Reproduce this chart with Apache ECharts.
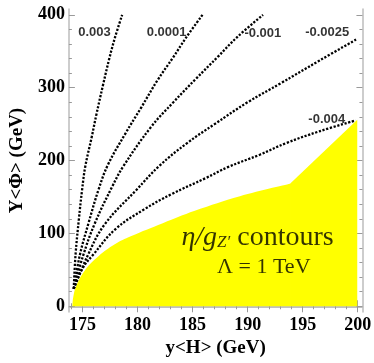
<!DOCTYPE html>
<html>
<head>
<meta charset="utf-8">
<script src="https://cdn.jsdelivr.net/npm/echarts@6/dist/echarts.min.js"></script>
<style>
html, body { margin: 0; padding: 0; background: #fff; }
#chart { width: 374px; height: 363px; }
</style>
</head>
<body>
<div id="chart"></div>
<script>
// axis ticks
var xMajor = [175, 180, 185, 190, 195, 200];
var xMinor = [174, 176, 177, 178, 179, 181, 182, 183, 184, 186, 187, 188, 189, 191, 192, 193, 194, 196, 197, 198, 199];
var yMajor = [0, 100, 200, 300, 400];
var yMinor = [20, 40, 60, 80, 120, 140, 160, 180, 220, 240, 260, 280, 320, 340, 360, 380];

// yellow region boundary (curved part, then straight part)
var regionCurve = [[174.08, 0], [174.15, 12], [174.43, 28], [175.3, 51], [176.47, 69], [177.93, 85],
  [179.38, 96], [182.29, 114], [185.2, 131], [189.3, 151], [193.85, 168]];
var regionLine = [[193.85, 168], [199.96, 256]];

// dotted contours
var contour0003 = [[174.2, 24], [174.37, 72], [174.67, 120], [174.96, 160], [175.25, 192], [175.83, 232],
  [176.27, 264], [176.85, 303], [177.43, 340], [177.95, 369], [178.6, 400]];
var contour00001 = [[174.2, 24], [174.75, 70], [175.54, 114], [176.45, 160], [177.3, 194], [178.89, 237],
  [180.34, 273], [181.8, 310], [183.25, 342], [184.42, 369], [185.9, 400]];
var contourM001 = [[174.2, 24], [175.04, 69], [176.12, 114], [177.72, 165], [178.7, 192], [181.22, 246],
  [183.25, 280], [185.29, 312], [187.33, 343], [189.02, 369], [191.4, 400]];
var contourM0025 = [[174.2, 24], [175.45, 69], [176.99, 112], [179.91, 160], [182, 193], [184.5, 224],
  [187, 250], [190, 280], [193, 306], [196.5, 337], [199.85, 366]];
var contourM004 = [[174.2, 24], [175, 52], [175.98, 71], [178, 106], [180.6, 133], [183.1, 154],
  [186.2, 176], [188.2, 191], [191.1, 208], [193.5, 224], [196.5, 240], [199.8, 255]];

var contourNames = ['0.003', '0.0001', '-0.001', '-0.0025', '-0.004'];
var contourLabelX = [176.09, 182.64, 191.38, 197.23, 197.19];
var contourLabelY = [375.6, 375.6, 374, 375.6, 256.4];

var xMin = 173.76, xMax = 200.43, yMin = -8, yMax = 408;
var frameColor = '#bdbdbd', tickColor = '#9a9a9a';
var labelFont = { fontFamily: 'Liberation Serif', fontWeight: 'bold', fontSize: 18, color: '#000' };

function frameAxis(pos, min, max, ticks, len, main) {
  return {
    type: 'value', position: pos, min: min, max: max,
    axisLine: { show: main, lineStyle: { color: frameColor, width: 1.5 } },
    axisTick: { show: true, inside: true, length: len, customValues: ticks, lineStyle: { color: tickColor, width: 1 } },
    axisLabel: { show: false },
    splitLine: { show: false }
  };
}

var xBottom = frameAxis('bottom', xMin, xMax, xMajor, 6, true);
xBottom.axisLabel = Object.assign({ show: true, customValues: xMajor, margin: 4 }, labelFont);
xBottom.name = 'y<H> (GeV)';
xBottom.nameLocation = 'middle';
xBottom.nameGap = 25;
xBottom.nameTextStyle = Object.assign({}, labelFont, { fontSize: 19 });

var yLeft = frameAxis('left', yMin, yMax, yMajor, 6, true);
yLeft.axisLabel = Object.assign({ show: true, customValues: yMajor, margin: 4 }, labelFont);
yLeft.name = 'Y<Φ> (GeV)';
yLeft.nameLocation = 'middle';
yLeft.nameGap = 40;
yLeft.nameTextStyle = Object.assign({}, labelFont, { fontSize: 19 });

function contourSeries(data) {
  return {
    type: 'line', data: data, smooth: 0.4, showSymbol: false, symbol: 'none', z: 5,
    lineStyle: { color: '#000', width: 2.3, type: [2.2, 1.6] }
  };
}

function areaSeries(data, smooth) {
  return {
    type: 'line', data: data, smooth: smooth, showSymbol: false, symbol: 'none', z: 2,
    lineStyle: { width: 0 },
    areaStyle: { color: '#ffff00', opacity: 1, origin: 0 }
  };
}

var labelData = contourNames.map(function (n, i) {
  return { name: n, value: [contourLabelX[i], contourLabelY[i]] };
});

var noBorder = { textBorderWidth: 0, textShadowBlur: 0 };

var chart = echarts.init(document.getElementById('chart'));
chart.setOption({
  animation: false,
  grid: { left: 57, right: 11, top: 9, bottom: 47 },
  xAxis: [xBottom, frameAxis('bottom', xMin, xMax, xMinor, 3, false),
    frameAxis('top', xMin, xMax, xMajor, 6, true), frameAxis('top', xMin, xMax, xMinor, 3, false)],
  yAxis: [yLeft, frameAxis('left', yMin, yMax, yMinor, 3, false),
    frameAxis('right', yMin, yMax, yMajor, 6, true), frameAxis('right', yMin, yMax, yMinor, 3, false)],
  series: [
    areaSeries(regionCurve, 0.4),
    areaSeries(regionLine, false),
    contourSeries(contour0003),
    contourSeries(contour00001),
    contourSeries(contourM001),
    contourSeries(contourM0025),
    contourSeries(contourM004),
    {
      type: 'scatter', symbolSize: 0, z: 6, data: labelData,
      label: Object.assign({
        show: true, position: 'inside', formatter: '{b}',
        fontFamily: 'Liberation Sans', fontWeight: 'bold', fontSize: 13, color: '#000'
      }, noBorder)
    },
    {
      type: 'scatter', symbolSize: 0, z: 6,
      data: [{ name: 'title', value: [190.9, 96] }],
      label: Object.assign({
        show: true, position: 'inside',
        formatter: '{i|η/g}{s|Z′}{r| contours}',
        rich: {
          i: { fontFamily: 'Liberation Serif', fontStyle: 'italic', fontSize: 28, color: '#000', lineHeight: 30, verticalAlign: 'bottom', textBorderWidth: 0 },
          s: { fontFamily: 'Liberation Serif', fontStyle: 'italic', fontSize: 17, color: '#000', lineHeight: 15, verticalAlign: 'bottom', textBorderWidth: 0 },
          r: { fontFamily: 'Liberation Serif', fontSize: 28, color: '#000', lineHeight: 30, verticalAlign: 'bottom', textBorderWidth: 0 }
        }
      }, noBorder)
    },
    {
      type: 'scatter', symbolSize: 0, z: 6,
      data: [{ name: 'Λ = 1 TeV', value: [191.47, 54] }],
      label: Object.assign({
        show: true, position: 'inside', formatter: '{b}',
        fontFamily: 'Liberation Serif', fontSize: 22, color: '#000'
      }, noBorder)
    }
  ]
});
</script>
</body>
</html>
